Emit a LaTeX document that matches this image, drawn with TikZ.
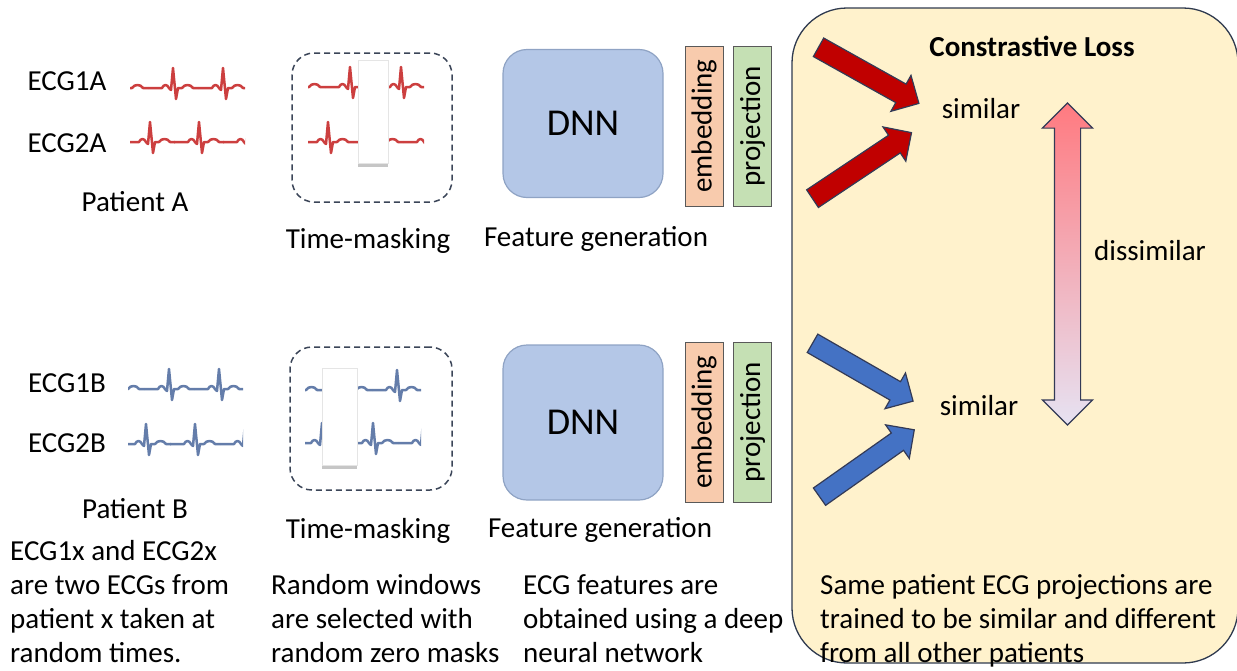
\documentclass[tikz,border=0pt]{standalone}
\usepackage{fontspec}
\setmainfont{Carlito}
\usetikzlibrary{shapes.arrows,shadows,positioning}

\definecolor{ecgred}{HTML}{CC3F3F}
\definecolor{ecgblue}{HTML}{647DAA}
\definecolor{dashcol}{HTML}{3B4558}
\definecolor{dnnfill}{HTML}{B4C7E7}
\definecolor{dnnedge}{HTML}{8FA3C4}
\definecolor{embfill}{HTML}{F8CBAD}
\definecolor{projfill}{HTML}{C5E0B4}
\definecolor{lossfill}{HTML}{FFF2CC}
\definecolor{lossedge}{HTML}{2F3A4F}
\definecolor{arrred}{HTML}{C00000}
\definecolor{arrblue}{HTML}{4472C4}
\definecolor{arrowedge}{HTML}{333A56}
\definecolor{dishigh}{HTML}{FF7A80}
\definecolor{dismid}{HTML}{C9C3E3}
\definecolor{dislow}{HTML}{E6E2F2}

\tikzset{
  beat/.pic={\draw[pic actions] (-25,0) -- (-11,0) .. controls (-9,-4) and (-6,-4) .. (-4,0)
      -- (-2,2) -- (0,-20) -- (3,11) -- (5,0) -- (9,0) .. controls (11,-4) and (18,-4) .. (20,0) -- (25,0);},
  trace/.style={line width=2.5pt, line join=round},
}

\begin{document}
\begin{tikzpicture}[x=1pt, y=-1pt,
    font=\fontsize{29}{34}\selectfont,
    lbl/.style={inner sep=0pt, anchor=base},
    para/.style={inner sep=0pt, anchor=north west, align=left, execute at begin node=\strut},
    maskframe/.style={draw=dashcol, dashed, dash pattern=on 6pt off 4pt, line width=1.5pt, rounded corners=22pt},
    zeromask/.style={fill=white, draw=black!10, drop shadow={shadow xshift=0pt, shadow yshift=-4pt, opacity=0.45}},
    dnnbox/.style={draw=dnnedge, fill=dnnfill, line width=1.2pt, rounded corners=24pt,
        minimum width=160pt, minimum height=148pt, font=\fontsize{38}{44}\selectfont},
    vecbox/.style={draw=black!65, line width=1pt, rotate=90, minimum width=160pt, minimum height=38pt, inner sep=0pt},
    fatarrow/.style={single arrow, inner xsep=0pt, inner ysep=10pt, single arrow head extend=10pt,
        draw=arrowedge, line width=1.2pt, anchor=tail}]
\useasboundingbox (0,0) rectangle (1237,670);

% loss panel
\node[draw=lossedge, fill=lossfill, line width=1.3pt, rounded corners=55pt,
      minimum width=446pt, minimum height=655pt, inner sep=0pt] (loss) at (1015,335.5) {};
\node[lbl, font=\fontsize{29}{34}\selectfont\bfseries] (losstitle) at (1032,56) {Constrastive Loss};

% patient A
\node[lbl] (ecg1a) at (67,90) {ECG1A};
\node[lbl] (ecg2a) at (67,152) {ECG2A};
\node[lbl] (pata) at (135,211) {Patient A};
\begin{scope}
  \clip (130,50) rectangle (245,170);
  \foreach \s in {123,173,223} \pic[trace, ecgred] at (\s,88) {beat};
  \foreach \s in {101,150,199,248} \pic[trace, ecgred] at (\s,142) {beat};
\end{scope}

% masked A
\node[maskframe, minimum width=160pt, minimum height=149pt] (maska) at (372,127.5) {};
\begin{scope}
  \clip (308,50) rectangle (424,170);
  \foreach \s in {300,350,401} \pic[trace, ecgred] at (\s,87) {beat};
  \foreach \s in {328,378,428} \pic[trace, ecgred] at (\s,142) {beat};
\end{scope}
\node[zeromask, minimum width=30pt, minimum height=103pt, inner sep=0pt] (zeroa) at (373,111.5) {};
\node[lbl] (tma) at (368,248) {Time-masking};

% features A
\node[dnnbox] (dnna) at (583,123.5) {DNN};
\node[vecbox, fill=embfill] (emba) at (704,126) {embedding};
\node[vecbox, fill=projfill] (proja) at (752.5,126) {projection};
\node[lbl] (fga) at (596,246) {Feature generation};

% patient B
\node[lbl] (ecg1b) at (67,392) {ECG1B};
\node[lbl] (ecg2b) at (67,452) {ECG2B};
\node[lbl] (patb) at (135,518) {Patient B};
\begin{scope}
  \clip (128,350) rectangle (243,470);
  \foreach \s in {119,169,219,269} \pic[trace, ecgblue] at (\s,389) {beat};
  \foreach \s in {97,146,195,245} \pic[trace, ecgblue] at (\s,444) {beat};
\end{scope}

% masked B
\node[maskframe, minimum width=162pt, minimum height=143pt] (maskb) at (371,418.5) {};
\begin{scope}
  \clip (305,350) rectangle (421,470);
  \foreach \s in {297,347,397,447} \pic[trace, ecgblue] at (\s,390) {beat};
  \foreach \s in {322,373,423} \pic[trace, ecgblue] at (\s,443) {beat};
\end{scope}
\node[zeromask, minimum width=35pt, minimum height=97pt, inner sep=0pt] (zerob) at (339.5,416.5) {};
\node[lbl] (tmb) at (368,538) {Time-masking};

% features B
\node[dnnbox, minimum height=155pt] (dnnb) at (583,422.5) {DNN};
\node[vecbox, fill=embfill] (embb) at (704,422) {embedding};
\node[vecbox, fill=projfill] (projb) at (752.5,422) {projection};
\node[lbl] (fgb) at (600,537) {Feature generation};

% arrows in the loss panel
\node[lbl] (simA) at (981,118) {similar};
\node[lbl] (simB) at (979,415) {similar};
\node[lbl] (dis) at (1150,260) {dissimilar};
\node[fatarrow, fill=arrred, minimum height=115pt, rotate=-29.2] (arrA1) at (818,47) {};
\node[fatarrow, fill=arrred, minimum height=119pt, rotate=33.7] (arrA2) at (812,199) {};
\node[fatarrow, fill=arrblue, minimum height=116pt, rotate=-29.9] (arrB1) at (812,343) {};
\node[fatarrow, fill=arrblue, minimum height=116pt, rotate=35.2] (arrB2) at (819,497) {};
\node[double arrow, rotate=90, inner xsep=0pt, inner ysep=12.5pt, minimum height=322pt,
      double arrow head extend=12pt, draw=arrowedge, line width=1.2pt,
      bottom color=dislow, middle color=dismid, top color=dishigh] (dissim) at (1067.5,264) {};

% captions
\node[para] (capecg) at (10,540) {ECG1x and ECG2x\\are two ECGs from\\patient x taken at\\random times.};
\node[para] (capmask) at (271,574) {Random windows\\are selected with\\random zero masks};
\node[para] (capfeat) at (523,574) {ECG features are\\obtained using a deep\\neural network};
\node[para] (caploss) at (820,574) {Same patient ECG projections are\\trained to be similar and different\\from all other patients};
\end{tikzpicture}
\end{document}
